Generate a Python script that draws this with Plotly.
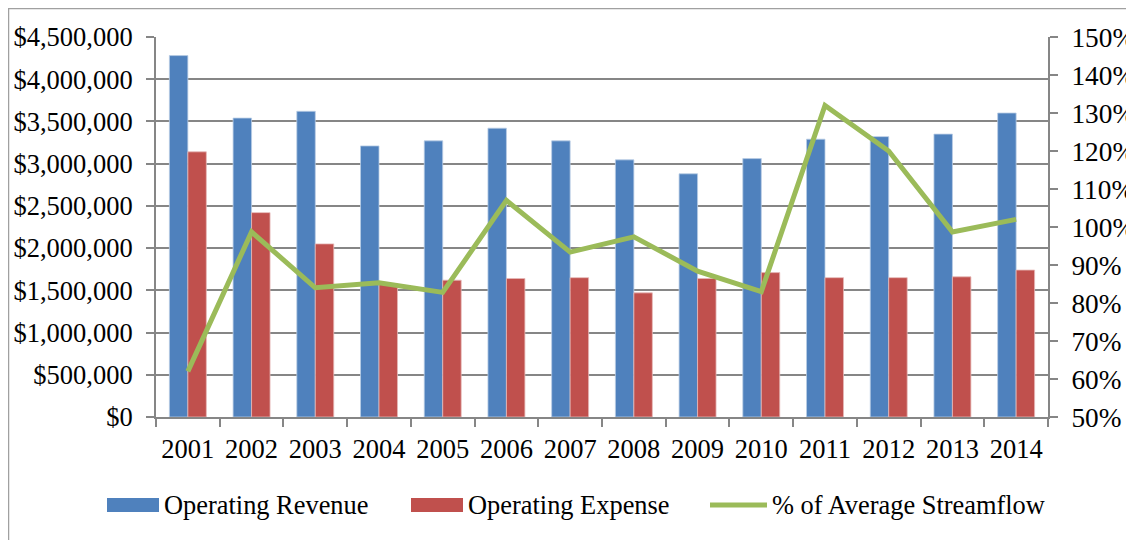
import plotly.graph_objects as go

years = [str(y) for y in range(2001, 2015)]
operating_revenue = [4280000, 3540000, 3620000, 3210000, 3270000, 3420000, 3270000,
                     3045000, 2880000, 3060000, 3290000, 3320000, 3350000, 3600000]
operating_expense = [3140000, 2420000, 2050000, 1580000, 1620000, 1640000, 1650000,
                     1470000, 1640000, 1710000, 1650000, 1650000, 1660000, 1740000]
pct_avg_streamflow = [62, 98.7, 84, 85.3, 82.8, 107, 93.4, 97.4, 88.4, 83, 132, 120, 98.7, 102]

BLUE = "#4F81BD"
RED = "#C0504D"
GREEN = "#9BBB59"
GRID = "#868686"
FONT = "Liberation Serif"

# plot area in page pixels (the page body adds an 8px margin around the figure)
PAGE_OFF = 8
L, R, T, B = 156, 1048, 37, 417
W, H = 1134, 540


def px(x):
    return (x - L) / (R - L)


def py(y):
    return (B - y) / (B - T)


fig = go.Figure()
fig.add_trace(go.Bar(
    x=years, y=operating_revenue, name="Operating Revenue",
    marker={"color": BLUE, "line": {"color": "#B9CDE5", "width": 0.8}},
))
fig.add_trace(go.Bar(
    x=years, y=operating_expense, name="Operating Expense",
    marker={"color": RED, "line": {"color": "#E6B9B8", "width": 0.8}},
))
fig.add_trace(go.Scatter(
    x=years, y=pct_avg_streamflow, name="% of Average Streamflow", yaxis="y2",
    mode="lines", line={"color": GREEN, "width": 5},
))

fig.update_layout(
    width=W, height=H,
    margin={"l": L - PAGE_OFF, "r": W + PAGE_OFF - R, "t": T - PAGE_OFF,
            "b": H + PAGE_OFF - B, "pad": 0, "autoexpand": False},
    paper_bgcolor="white", plot_bgcolor="white",
    font={"family": FONT, "size": 26, "color": "black"},
    barmode="group", bargap=0.42, bargroupgap=0,
    showlegend=False,
    xaxis={
        "type": "category", "tickson": "boundaries", "ticks": "outside",
        "ticklen": 8, "tickwidth": 2, "tickcolor": GRID, "showline": True,
        "linecolor": GRID, "linewidth": 2, "showgrid": False, "tickangle": 0,
        "tickfont": {"size": 26.5}, "ticklabelstandoff": 7, "automargin": False,
    },
    yaxis={
        "range": [0, 4500000], "dtick": 500000, "tickprefix": "$",
        "tickformat": ",d", "showgrid": True, "gridcolor": GRID, "gridwidth": 2,
        "showline": True, "linecolor": GRID, "linewidth": 2, "ticks": "outside",
        "ticklen": 8, "tickwidth": 2, "tickcolor": GRID, "zeroline": False,
        "tickfont": {"size": 26.5}, "ticklabelstandoff": 8, "automargin": False,
    },
    yaxis2={
        "overlaying": "y", "side": "right", "range": [50, 150], "dtick": 10,
        "ticksuffix": "%", "showgrid": False, "showline": True, "linecolor": GRID,
        "linewidth": 2, "ticks": "outside", "ticklen": 8, "tickwidth": 2,
        "tickcolor": GRID, "zeroline": False, "tickfont": {"size": 27.3},
        "ticklabelstandoff": 8, "automargin": False,
    },
)

# outer chart border
fig.add_shape(type="rect", xref="paper", yref="paper",
              x0=px(8.5), x1=px(1140), y0=py(546), y1=py(8.5),
              line={"color": "#A0A0A0", "width": 1.5}, layer="below")

# legend: wide swatches like the spreadsheet original
legend_y = 505
legend_items = [
    ("rect", BLUE, "Operating Revenue", 107, 159),
    ("rect", RED, "Operating Expense", 411, 463),
    ("line", GREEN, "% of Average Streamflow", 710, 767),
]
for kind, color, label, x0, x1 in legend_items:
    if kind == "rect":
        fig.add_shape(type="rect", xref="paper", yref="paper",
                      x0=px(x0), x1=px(x1), y0=py(legend_y + 7), y1=py(legend_y - 7),
                      fillcolor=color, line={"width": 0})
    else:
        fig.add_shape(type="line", xref="paper", yref="paper",
                      x0=px(x0), x1=px(x1), y0=py(legend_y), y1=py(legend_y),
                      line={"color": color, "width": 5})
    fig.add_annotation(xref="paper", yref="paper", x=px(x1 + 3), y=py(legend_y),
                       text=label, showarrow=False, xanchor="left", yanchor="middle",
                       font={"size": 26.4})

fig.write_html("out.html")
